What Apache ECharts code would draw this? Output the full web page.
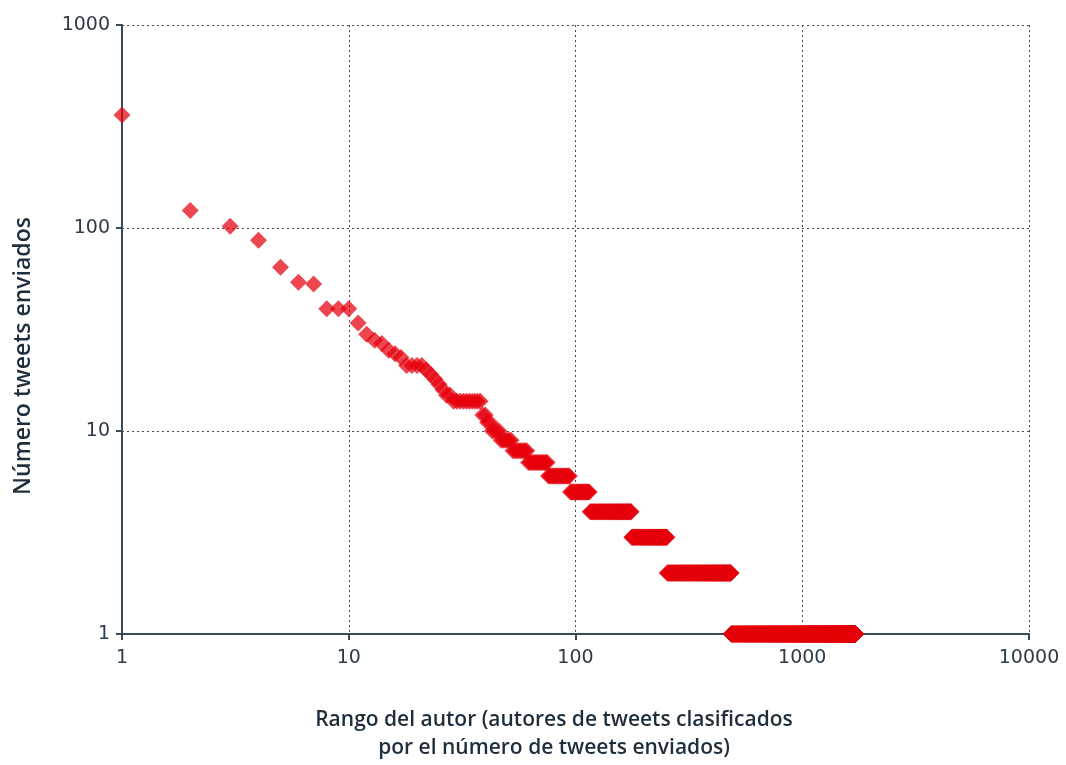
<!DOCTYPE html>
<html>
<head>
<meta charset="utf-8">
<script src="https://cdn.jsdelivr.net/npm/echarts@6/dist/echarts.min.js"></script>
<style>
html,body{margin:0;padding:0;background:#fff;}
#main{width:1066px;height:765px;}
</style>
</head>
<body>
<div id="main"></div>
<script>
// Head of the rank plot: individual authors (rank -> tweets sent)
const headRanks  = [1,2,3,4,5,6,7,8,9,10,11,12,13,14,15,16,17,18,19,20,21,22,23,24,25,26,27,28,29,30,31,32,33,34,35,36,37,38,39,40,41,42];
const headCounts = [360,122,102,87,64,54,53,40,40,40,34,30,28,27,25,24,23,21,21,21,21,20,19,18,17,16,15,15,14,14,14,14,14,14,14,14,14,14,12,12,11,11];
// Tail: every author rank in [first, last] sent this many tweets
const tailCounts    = [10, 9, 8, 7, 6, 5, 4, 3, 2, 1];
const tailFirstRank = [43, 47, 53, 62, 76, 95, 116, 177, 254, 486];
const tailLastRank  = [46, 52, 61, 75, 94, 115, 176, 253, 485, 1720];
const xTickLabels = ['1','10','100','1000','10000'];
const yTickLabels = ['1','10','100','1000'];
const xTitleLines = ['Rango del autor (autores de tweets clasificados', 'por el número de tweets enviados)'];
const yTitle = 'Número tweets enviados';

const points = [];
headRanks.forEach((r, i) => points.push([r, headCounts[i]]));
tailCounts.forEach((c, i) => {
  for (let r = tailFirstRank[i]; r <= tailLastRank[i]; r++) points.push([r, c]);
});

const axisColor = '#3a4a58';
const textColor = '#1f2e3d';
const chart = echarts.init(document.getElementById('main'), null, {renderer: 'canvas'});
chart.setOption({
  animation: false,
  backgroundColor: '#ffffff',
  grid: {left: 122, right: 37, top: 25, bottom: 131, containLabel: false},
  xAxis: {
    type: 'log', logBase: 10, min: 1, max: 10000,
    axisLine: {show: true, onZero: false, lineStyle: {color: axisColor, width: 2}},
    axisTick: {show: true, length: 6, lineStyle: {color: axisColor, width: 2}},
    minorTick: {show: false},
    axisLabel: {
      margin: 15, color: '#2c3b4a', fontSize: 19, fontFamily: 'DejaVu Sans',
      formatter: v => { const s = String(Math.round(v)); return xTickLabels.includes(s) ? s : ''; }
    },
    splitLine: {show: true, lineStyle: {color: '#4a4a4a', type: [2, 3], width: 1}}
  },
  yAxis: {
    type: 'log', logBase: 10, min: 1, max: 1000,
    axisLine: {show: true, onZero: false, lineStyle: {color: axisColor, width: 2}},
    axisTick: {show: true, length: 6, lineStyle: {color: axisColor, width: 2}},
    minorTick: {show: false},
    axisLabel: {
      margin: 12, color: '#2c3b4a', fontSize: 19, fontFamily: 'DejaVu Sans',
      formatter: v => { const s = String(Math.round(v)); return yTickLabels.includes(s) ? s : ''; }
    },
    splitLine: {show: true, lineStyle: {color: '#4a4a4a', type: [2, 3], width: 1}}
  },
  graphic: [
    {
      type: 'text', x: 554, y: 706,
      style: {
        text: xTitleLines.join('\n'), x: 0, y: 0,
        fill: textColor, font: '600 21px "Open Sans", sans-serif',
        align: 'center', lineHeight: 28
      }
    },
    {
      type: 'text', x: 23, y: 356, rotation: Math.PI / 2,
      style: {
        text: yTitle, fill: textColor, font: '600 23px "Open Sans", sans-serif',
        align: 'center', verticalAlign: 'middle'
      }
    }
  ],
  series: [{
    type: 'scatter',
    data: points,
    symbol: 'diamond',
    symbolSize: 17,
    itemStyle: {color: '#e5000c', opacity: 0.72},
    emphasis: {disabled: true}
  }]
});
</script>
</body>
</html>
